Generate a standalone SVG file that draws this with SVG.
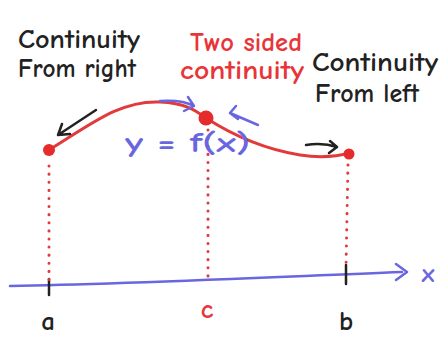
<svg xmlns="http://www.w3.org/2000/svg" width="441" height="338" viewBox="0 0 441 338">
<defs>
<style>
.hand{font-family:"Comic Neue","Liberation Sans","DejaVu Sans",sans-serif;font-weight:bold;}
.blk{fill:#222;}
.red{fill:#e8353a;}
.blu{fill:#6a66e0;}
.curve{fill:none;stroke:#e23a3a;stroke-width:3;stroke-linecap:round;}
.dots{fill:none;stroke:#e23a3a;stroke-width:3;stroke-dasharray:0.1 8;stroke-linecap:round;}
.ba{fill:none;stroke:#222;stroke-width:2.5;stroke-linecap:round;stroke-linejoin:round;}
.bl{fill:none;stroke:#6a66e0;stroke-width:2.5;stroke-linecap:round;stroke-linejoin:round;}
</style>
</defs>
<rect width="441" height="338" fill="#fff"/>
<g id="axis">
<path class="bl" d="M10,286 C120,284 250,278 402,272" stroke-width="3"/>
<path class="bl" d="M396,264 L407,272 L396,280"/>
<text class="hand blu" x="428" y="282" font-size="26" text-anchor="middle">x</text>
<path class="ba" d="M49,279 L49,295"/>
<path class="ba" d="M346,265 L346,284"/>
<text class="hand blk" x="48" y="330" font-size="27" text-anchor="middle">a</text>
<text class="hand red" x="207" y="318" font-size="27" text-anchor="middle">c</text>
<text class="hand blk" x="346" y="330" font-size="27" text-anchor="middle">b</text>
</g>
<g id="connectors">
<path class="dots" d="M49,166 L49,282"/>
<path class="dots" d="M208,130 L208,282"/>
<path class="dots" d="M348,165 L346,268"/>
<path class="curve" d="M49,150 C90,125 120,100 160,102 C185,103 195,110 206,118 C240,140 270,150 300,155 C320,158 335,157 350,153"/>
<path class="ba" d="M96,110 L58,135 M58,135 L62,124 M58,135 L70,134"/>
<path class="bl" d="M160,101 C175,100 185,101 194,106 M194,106 L188,97 M194,106 L184,111"/>
<path class="bl" d="M258,125 L230,113 M230,113 L236,106 M230,113 L238,119"/>
<path class="ba" d="M306,145 C318,143 328,144 337,147 M337,147 L330,141 M337,147 L329,153"/>
</g>
<g id="point-a"><circle cx="49" cy="150" r="6" fill="#e52b2b"/></g>
<g id="point-c"><circle cx="206" cy="118" r="7.5" fill="#e52b2b"/></g>
<g id="point-b"><circle cx="349" cy="154" r="5.5" fill="#e52b2b"/></g>
<g id="label-right">
<text class="hand blk" x="18" y="48" font-size="26" textLength="122" lengthAdjust="spacingAndGlyphs">Continuity</text>
<text class="hand blk" x="18" y="77" font-size="26" textLength="118" lengthAdjust="spacingAndGlyphs">From right</text>
</g>
<g id="label-two">
<text class="hand red" x="190" y="51" font-size="26" textLength="112" lengthAdjust="spacingAndGlyphs">Two sided</text>
<text class="hand red" x="180" y="79" font-size="26" textLength="124" lengthAdjust="spacingAndGlyphs">continuity</text>
</g>
<g id="label-left">
<text class="hand blk" x="312" y="71" font-size="26" textLength="126" lengthAdjust="spacingAndGlyphs">Continuity</text>
<text class="hand blk" x="315" y="102" font-size="26" textLength="104" lengthAdjust="spacingAndGlyphs">From left</text>
</g>
<g id="label-f">
<text class="hand blu" x="125" y="152" font-size="29" textLength="125" lengthAdjust="spacingAndGlyphs">y = f(x)</text>
</g>
</svg>
